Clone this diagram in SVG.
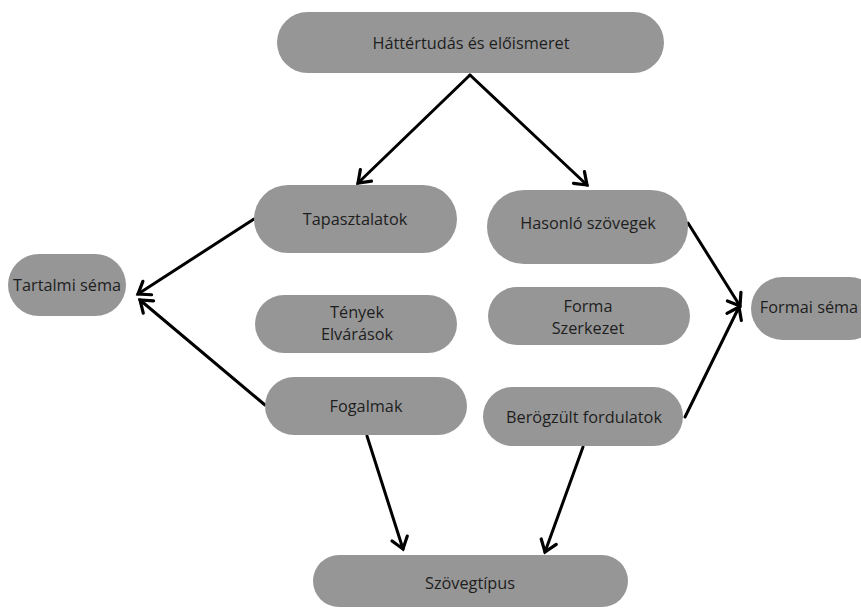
<svg xmlns="http://www.w3.org/2000/svg" width="861" height="609" viewBox="0 0 861 609">
<defs>
<style>
.n{fill:#969696}
.t{font-family:"Open Sans","Noto Sans","DejaVu Sans",sans-serif;font-size:16.3px;fill:#1e1e1e;text-anchor:middle;dominant-baseline:central}
.c{stroke:#000;stroke-width:3;fill:none;stroke-linecap:round}
</style>
<marker id="ah" markerUnits="userSpaceOnUse" markerWidth="20" markerHeight="20" viewBox="-12 -10 16 20" refX="0" refY="0" orient="auto">
<path d="M-11,-8 L0,0 L-11,8" fill="none" stroke="#000" stroke-width="3.2" stroke-linecap="round" stroke-linejoin="miter"/>
</marker>
</defs>
<rect width="861" height="609" fill="#fff"/>
<g id="connectors">
<line class="c" x1="470" y1="75" x2="358" y2="183" marker-end="url(#ah)"/>
<line class="c" x1="470" y1="75" x2="587" y2="185" marker-end="url(#ah)"/>
<line class="c" x1="254" y1="219" x2="138" y2="294" marker-end="url(#ah)"/>
<line class="c" x1="265" y1="405" x2="140" y2="300" marker-end="url(#ah)"/>
<line class="c" x1="688" y1="223" x2="740" y2="306" marker-end="url(#ah)"/>
<line class="c" x1="685" y1="417" x2="739" y2="307" marker-end="url(#ah)"/>
<line class="c" x1="367" y1="436" x2="403" y2="549" marker-end="url(#ah)"/>
<line class="c" x1="583" y1="447" x2="545" y2="552" marker-end="url(#ah)"/>
</g>
<g id="hatter"><rect class="n" x="277" y="12" width="387" height="61" rx="30.5"/><text class="t" x="471" y="42.5">Háttértudás és előismeret</text></g>
<g id="tapasztalatok"><rect class="n" x="254" y="185" width="203" height="68" rx="34"/><text class="t" x="355" y="219">Tapasztalatok</text></g>
<g id="hasonlo"><rect class="n" x="487" y="190" width="201" height="74" rx="37"/><text class="t" x="588" y="223">Hasonló szövegek</text></g>
<g id="tenyek"><rect class="n" x="255" y="295" width="202" height="58" rx="29"/><text class="t" x="357" y="312">Tények</text><text class="t" x="357" y="334">Elvárások</text></g>
<g id="forma"><rect class="n" x="488" y="287" width="202" height="58" rx="29"/><text class="t" x="588" y="306">Forma</text><text class="t" x="588" y="328">Szerkezet</text></g>
<g id="fogalmak"><rect class="n" x="265" y="377" width="202" height="58" rx="29"/><text class="t" x="366" y="406">Fogalmak</text></g>
<g id="berogzult"><rect class="n" x="483" y="387" width="200" height="59" rx="29.5"/><text class="t" x="584" y="417">Berögzült fordulatok</text></g>
<g id="tartalmi"><rect class="n" x="8" y="254" width="118" height="62" rx="31"/><text class="t" x="67" y="285">Tartalmi séma</text></g>
<g id="formai"><rect class="n" x="751" y="277" width="130" height="63" rx="31.5"/><text class="t" x="809" y="307">Formai séma</text></g>
<g id="szovegtipus"><rect class="n" x="313" y="555" width="315" height="52" rx="26"/><text class="t" x="470" y="583">Szövegtípus</text></g>
</svg>
